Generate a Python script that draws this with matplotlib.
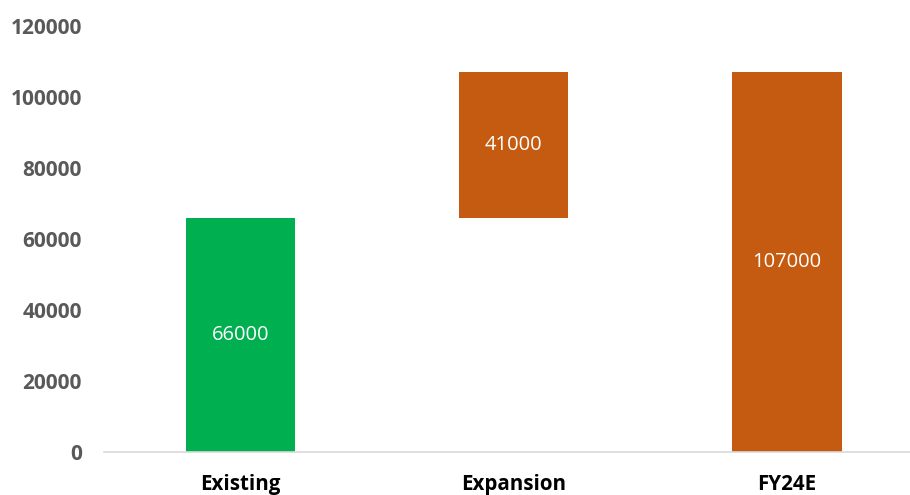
import matplotlib.pyplot as plt

categories = ["Existing", "Expansion", "FY24E"]
values = [66000, 41000, 107000]
bases = [0, 66000, 0]
colors = ["#00B050", "#C55A11", "#C55A11"]

plt.rcParams['font.family'] = ['Open Sans', 'DejaVu Sans']

fig = plt.figure(figsize=(9.1, 4.95), dpi=100)
ax = fig.add_axes([0.1143, 0.0869, 0.8857, 0.8606])

x = range(len(categories))
bars = ax.bar(x, values, bottom=bases, width=0.40, color=colors)

for b, v in zip(bars, values):
    ax.text(b.get_x() + b.get_width() / 2, b.get_y() + b.get_height() / 2, str(v),
            ha="center", va="center", color="white", fontsize=14.5)

ax.set_ylim(0, 120000)
ax.set_xlim(-0.5, 2.45)
ax.set_yticks(range(0, 120001, 20000))
ax.set_xticks(list(x))
ax.set_xticklabels(categories, fontsize=14.8, fontweight="bold", color="black")
for lbl in ax.get_yticklabels():
    lbl.set_fontsize(15)
    lbl.set_fontweight("bold")
    lbl.set_color("#595959")

for s in ["top", "right", "left"]:
    ax.spines[s].set_visible(False)
ax.spines["bottom"].set_color("#D9D9D9")
ax.spines["bottom"].set_linewidth(1.2)
ax.tick_params(length=0)
ax.tick_params(axis="y", pad=16)
ax.tick_params(axis="x", pad=16)

fig.savefig("out.png", dpi=100)
